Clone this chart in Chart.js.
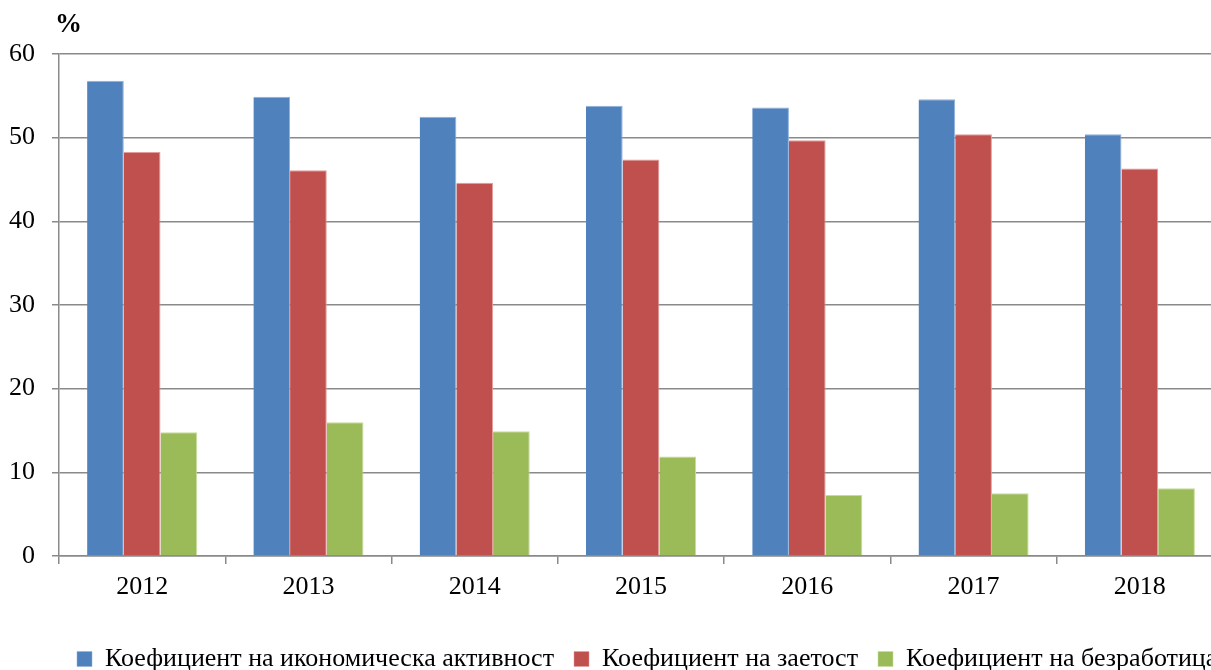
<!DOCTYPE html>
<html>
<head>
<meta charset="utf-8">
<script src="https://cdn.jsdelivr.net/npm/chart.js@4"></script>
<style>
  html, body { margin: 0; padding: 0; background: #fff; overflow: hidden; }
  #wrap { position: relative; width: 1296px; height: 670px; }
  #unit { position: absolute; left: 55px; top: 8px; font: bold 27px "Liberation Serif", serif; color: #000; }
</style>
</head>
<body>
<div id="wrap">
  <canvas id="laborChart"></canvas>
  <div id="unit">%</div>
</div>
<script>
const years = ['2012', '2013', '2014', '2015', '2016', '2017', '2018'];
const activityRate = [56.8, 54.9, 52.5, 53.8, 53.6, 54.6, 50.4];
const employmentRate = [48.3, 46.1, 44.6, 47.4, 49.7, 50.4, 46.3];
const unemploymentRate = [14.8, 16.0, 14.9, 11.9, 7.3, 7.5, 8.1];
const yTicks = [0, 10, 20, 30, 40, 50, 60];

const seriesNames = [
    'Коефициент на икономическа активност',
    'Коефициент на заетост',
    'Коефициент на безработица'
];

const font = { family: '"Liberation Serif", "Times New Roman", serif', size: 26 };
const gridColor = '#8a8a8a';

// legend starts near the left edge like the original, not centred on the canvas
const legendShift = {
    id: 'legendShift',
    afterLayout(chart) {
        chart.legend.left += 57;
        chart.legend.right += 57;
    }
};

function initChart() {
    const ctx = document.getElementById('laborChart').getContext('2d');
    new Chart(ctx, {
        type: 'bar',
        data: {
            labels: years,
            datasets: [
                { label: seriesNames[0], data: activityRate, backgroundColor: '#4F81BD', borderColor: '#8FB0DA', borderWidth: { top: 1, right: 1 } },
                { label: seriesNames[1], data: employmentRate, backgroundColor: '#C0504D', borderColor: '#E39C9A', borderWidth: { top: 1, right: 1 } },
                { label: seriesNames[2], data: unemploymentRate, backgroundColor: '#9BBB59', borderColor: '#C6DC9C', borderWidth: { top: 1, right: 1 } }
            ]
        },
        plugins: [legendShift],
        options: {
            animation: false,
            responsive: true,
            maintainAspectRatio: false,
            layout: { padding: { top: 54, right: 73, left: 0, bottom: -12 } },
            datasets: { bar: { barPercentage: 1, categoryPercentage: 0.662 } },
            plugins: {
                tooltip: { enabled: false },
                legend: {
                    position: 'bottom',
                    align: 'start',
                    labels: {
                        color: '#000',
                        font: font,
                        boxWidth: 15,
                        boxHeight: 15,
                        padding: 20
                    }
                }
            },
            scales: {
                x: {
                    grid: { drawOnChartArea: false, drawTicks: true, tickLength: 8, color: gridColor, lineWidth: 1.5, offset: true },
                    border: { color: gridColor, width: 1.5 },
                    ticks: { color: '#000', font: font, padding: 8 },
                    afterFit: s => { s.height = 70; }
                },
                y: {
                    min: 0,
                    max: 60,
                    afterBuildTicks: s => { s.ticks = yTicks.map(v => ({ value: v })); },
                    grid: { color: gridColor, lineWidth: 1.5, tickLength: 7 },
                    border: { color: gridColor, width: 1.5 },
                    ticks: { color: '#000', font: font, padding: 17 },
                    afterFit: s => { s.width = 59; }
                }
            }
        }
    });
}

initChart();
</script>
</body>
</html>
